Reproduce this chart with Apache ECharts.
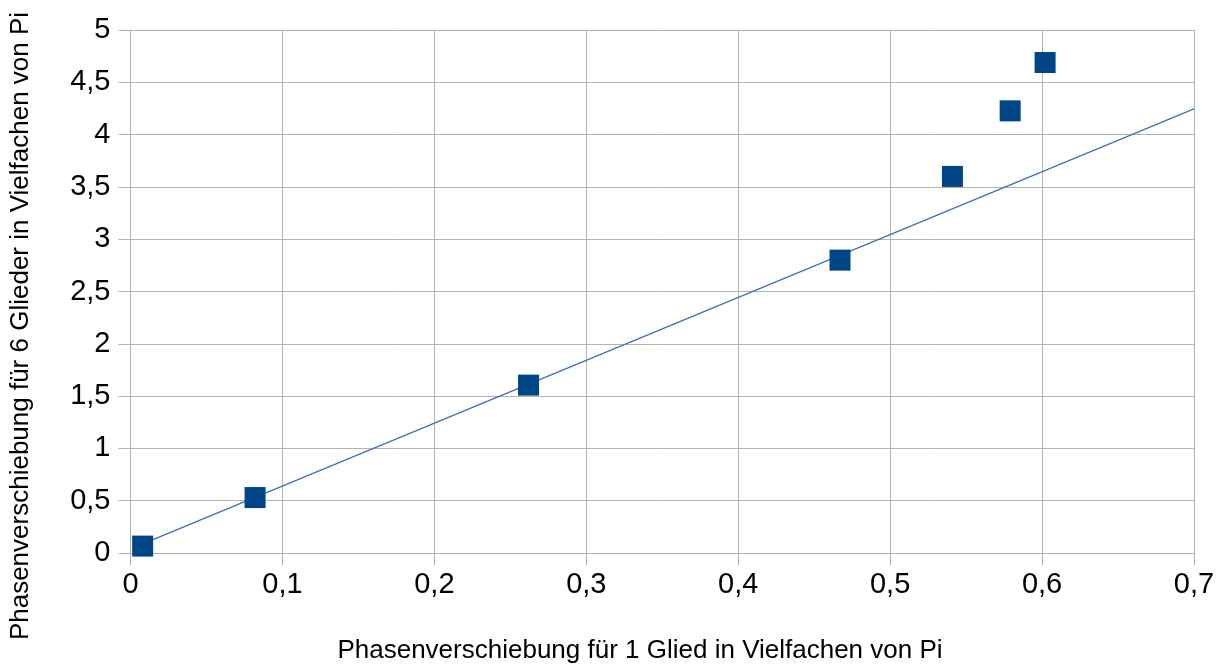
<!DOCTYPE html>
<html>
<head>
<meta charset="utf-8">
<script src="https://cdn.jsdelivr.net/npm/echarts@6/dist/echarts.min.js"></script>
<style>
html,body{margin:0;padding:0;background:#fff;}
#chart{width:1219px;height:665px;}
</style>
</head>
<body>
<div id="chart"></div>
<script>
// Data
var xValues = [0.008, 0.082, 0.262, 0.467, 0.541, 0.579, 0.602];
var yValues = [0.066, 0.53, 1.605, 2.80, 3.60, 4.227, 4.689];
var trendX = [0.008, 0.7];
var trendY = [0.088, 4.245];
var xTicks = [0, 0.1, 0.2, 0.3, 0.4, 0.5, 0.6, 0.7];
var yTicks = [0, 0.5, 1, 1.5, 2, 2.5, 3, 3.5, 4, 4.5, 5];
var xTitle = 'Phasenverschiebung für 1 Glied in Vielfachen von Pi';
var yTitle = 'Phasenverschiebung für 6 Glieder in Vielfachen von Pi';

var points = xValues.map(function (x, i) { return [x, yValues[i]]; });
var trend = trendX.map(function (x, i) { return [x, trendY[i]]; });

function fmt(v) { return String(Math.round(v * 10) / 10).replace('.', ','); }

var chart = echarts.init(document.getElementById('chart'));
var font = '"Liberation Sans", Arial, sans-serif';
var gridColor = '#b3b3b3';
chart.setOption({
  animation: false,
  backgroundColor: '#ffffff',
  grid: { left: 130.5, right: 25, top: 30, bottom: 112, containLabel: false },
  xAxis: {
    type: 'value', min: xTicks[0], max: xTicks[xTicks.length - 1], interval: 0.1,
    axisLine: { show: true, onZero: false, lineStyle: { color: gridColor, width: 1 } },
    axisTick: { show: true, length: 12, lineStyle: { color: gridColor } },
    splitLine: { show: true, lineStyle: { color: gridColor, width: 1 } },
    axisLabel: { formatter: fmt, fontSize: 29, color: '#000', fontFamily: font, margin: 17 }
  },
  yAxis: {
    type: 'value', min: yTicks[0], max: yTicks[yTicks.length - 1], interval: 0.5,
    axisLine: { show: true, onZero: false, lineStyle: { color: gridColor, width: 1 } },
    axisTick: { show: true, length: 12, lineStyle: { color: gridColor } },
    splitLine: { show: true, lineStyle: { color: gridColor, width: 1 } },
    axisLabel: { formatter: fmt, fontSize: 29, color: '#000', fontFamily: font, margin: 20 }
  },
  graphic: [
    { type: 'text', x: 640, y: 651,
      style: { text: xTitle, fontSize: 26, fill: '#000', fontFamily: font, align: 'center', verticalAlign: 'middle' } },
    { type: 'text', x: 21, y: 326, rotation: Math.PI / 2,
      style: { text: yTitle, fontSize: 26, fill: '#000', fontFamily: font, align: 'center', verticalAlign: 'middle' } }
  ],
  series: [
    { type: 'line', data: trend, symbol: 'none', silent: true,
      lineStyle: { color: '#3e72b4', width: 1.3 }, z: 2 },
    { type: 'scatter', data: points, symbol: 'rect', symbolSize: 21,
      itemStyle: { color: '#004586', opacity: 1 }, z: 3 }
  ]
});
</script>
</body>
</html>
